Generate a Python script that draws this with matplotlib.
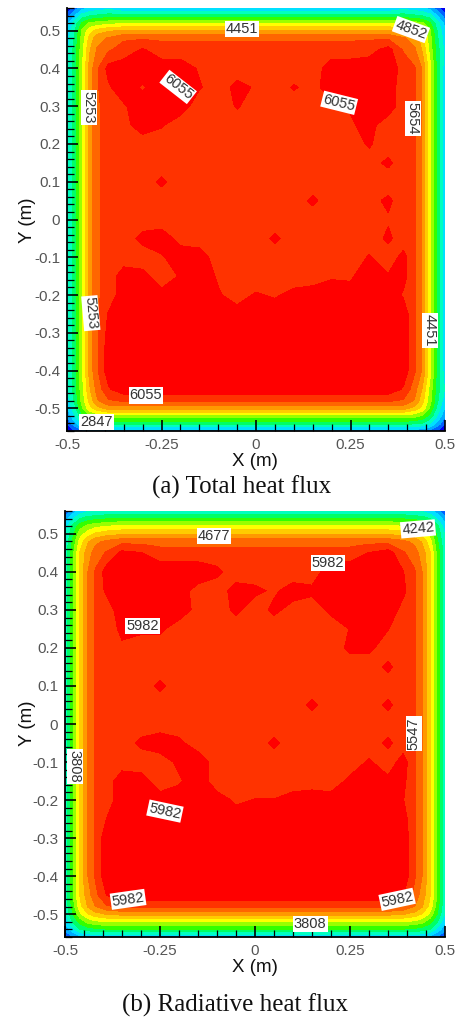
import numpy as np
import matplotlib
matplotlib.use("Agg")
import matplotlib.pyplot as plt
from matplotlib.colors import ListedColormap, BoundaryNorm
from matplotlib.ticker import FixedLocator

plt.rcParams['font.family'] = ['Liberation Sans', 'DejaVu Sans']

# grid lines of the hand-read fields (m)
x_left = [-0.5, -0.48, -0.46, -0.44, -0.42]
x_core = [-0.39, -0.35, -0.30, -0.25, -0.20, -0.15, -0.10, -0.05, 0, 0.05, 0.10, 0.15, 0.20, 0.25, 0.30, 0.35, 0.39]
x_right = [0.42, 0.44, 0.46, 0.48, 0.5]
y_top = [0.56, 0.54, 0.52, 0.50, 0.48]
y_core = [0.45, 0.40, 0.35, 0.30, 0.25, 0.20, 0.15, 0.10, 0.05, 0, -0.05, -0.10, -0.15, -0.20, -0.25, -0.30, -0.35, -0.40, -0.45]
y_bottom = [-0.48, -0.50, -0.52, -0.54, -0.56]

# heat flux, in hundreds of W/m2
core_a = [
 [56,58,61,58,58,58,58,58,58,58,58,58,58,58,59,62,56],
 [62,63,63,63,63,60,58,58,58,58,58,58,63,63,63,63,59],
 [60,63,60,63,63,61,58,62,60,58,61,59,63,63,63,63,58],
 [58,60,63,63,63,58,58,61,58,58,58,58,59,61,63,63,58],
 [58,59,63,61,58,58,58,58,58,58,58,58,58,60,62,58,58],
 [58,58,58,58,58,58,58,58,58,58,58,58,58,59,61,58,58],
 [58,58,58,58,58,58,58,58,58,58,58,58,58,58,59,61.5,58],
 [58,58,58,61.5,58,58,58,58,58,58,58,58,58,58,58,58,58],
 [58,58,58,58,58,58,58,58,58,58,58,61.5,58,58,59,61.5,58],
 [58,58,58,58,58,58,58,58,58,58,58,58,58,58,58,60,58],
 [58,58,62,63,59,58,58,58,58,61.5,58,58,58,58,58,61.5,58],
 [58,58,58,60,63,63,58,58,58,58,58,58,58,58,61,58,62],
 [58,63,62,58,61,63,60,58,58,58,58,58,60,60,63,61,62],
 [58,63,63,62,63,63,61,59,61,60,62,63,63,62,63,63,60],
 [61,63,63,63,63,63,63,62,63,63,63,63,63,63,63,63,63],
 [62,63,63,63,63,63,63,63,63,63,63,63,63,63,63,63,63],
 [63,63,63,63,63,63,63,63,63,63,63,63,63,63,63,63,63],
 [63,63,63,63,63,63,63,63,63,63,63,63,63,63,63,63,63],
 [62,63,63,63,63,63,63,63,63,63,63,63,63,63,63,63,62],
]
left_a = [24, 30, 40, 50, 56]
right_a = [57, 52, 42, 31, 22]
top_a = [20, 30, 40, 49, 56]
bottom_a = [57, 50, 39, 30, 18]
tl_a = [[8,14,19,21,22,23],[14,20,26,28,29,30],[19,26,33,37,38,39],[21,28,37,43,46,48],[22,29,38,46,51,53],[23,30,39,48,53,56]]
tr_a = [[23,22,21,19,14,8],[30,29,28,26,20,14],[39,38,37,33,26,19],[48,46,43,37,28,21],[53,51,46,38,29,22],[56,53,48,39,30,23]]
bl_a = [[24,30,39,48,54,60],[22,29,38,46,52,56],[20,27,36,43,47,50],[17,24,31,36,38,39],[13,19,25,28,29,30],[6,12,15,17,18,18]]
br_a = [[60,54,48,39,30,24],[56,52,46,38,29,22],[50,47,43,36,27,20],[39,38,36,31,24,17],[30,29,28,25,19,13],[18,18,17,15,12,6]]

core_b = [
 [55,61,60,57,57,57,57,57,57,57,57,57,57,57,60,62,55],
 [62,63,63,63,63,63,61,57,57,57,57,57,63,63,63,63,60],
 [61,63,63,63,62,58,57,62,61,59,62,61,63,63,63,63,61],
 [57,63,63,63,63,58,57,61,57,61,58,57,61,63,63,63,58],
 [57,61,61,61,57,57,57,57,57,57,57,57,57,60,62,60,57],
 [57,59,57,57,57,57,57,57,57,57,57,57,57,61,61,57,57],
 [57,57,57,57,57,57,57,57,57,57,57,57,57,57,57,61,57],
 [57,57,57,61,57,57,57,57,57,57,57,57,57,57,57,57,57],
 [57,57,57,57,57,57,57,57,57,57,57,61,57,57,57,61,57],
 [57,57,57,57,57,57,57,57,57,57,57,57,57,57,57,57,57],
 [57,57,61,63,61,57,57,57,57,61,57,57,57,57,57,61,57],
 [57,57,57,57,61,63,57,57,57,57,57,57,57,57,60.5,57,62],
 [57,63,62,57,59,63,57,57,57,57,57,57,57,61,63,61,61],
 [57,63,63,62,63,63,62,59,60,60,62,63,62,62,63,63,60],
 [60,63,63,63,63,63,63,62,63,63,63,63,63,63,63,63,62],
 [63,63,63,63,63,63,63,63,63,63,63,63,63,63,63,63,63],
 [63,63,63,63,63,63,63,63,63,63,63,63,63,63,63,63,63],
 [63,63,63,63,63,63,63,63,63,63,63,63,63,63,63,63,63],
 [62,63,63,63,63,63,63,63,63,63,63,63,63,63,63,63,62],
]
left_b = [22, 33, 44, 51, 56]
right_b = [56, 51, 44, 33, 22]
top_b = [20, 30, 39, 46, 54]
bottom_b = [56, 48, 38, 29, 17]
tl_b = [[8,14,18,20,20,21],[14,20,25,27,28,29],[18,26,32,35,37,38],[20,28,36,40,43,45],[21,30,40,46,50,52],[22,32,43,49,53,56]]
tr_b = [[21,20,20,18,14,8],[29,28,27,25,20,14],[38,37,35,32,26,18],[45,43,40,36,28,20],[52,50,46,40,30,21],[56,53,49,43,32,22]]
bl_b = [[22,33,43,49,54,60],[21,31,41,47,51,55],[20,29,37,42,45,47],[17,25,31,35,37,38],[13,19,25,27,28,29],[6,12,15,16,17,17]]
br_b = [[60,54,49,43,33,22],[55,51,47,41,31,21],[47,45,42,37,29,20],[38,37,35,31,25,17],[29,28,27,25,19,13],[17,17,16,15,12,6]]

# contour levels (hundreds of W/m2)
levels_a = [12.43, 16.44, 20.45, 24.46, 28.47, 32.48, 36.49, 40.50, 44.51, 48.52, 52.53, 56.54, 60.55]
levels_b = [11.98, 16.33, 20.68, 25.03, 29.38, 33.73, 38.08, 42.42, 46.77, 51.12, 55.47, 59.82]
band_colors = ['#0000f0', '#0060ff', '#00aaff', '#00e0ff', '#00ffc0', '#00ff66', '#33ff00',
               '#99ff00', '#ffff00', '#ffcc00', '#ff9900', '#ff6600', '#ff3300', '#ff0000']

# contour labels: text, x, y, rotation
labels_a_text = ['4451', '4852', '6055', '6055', '5253', '5654', '5253', '4451', '6055', '2847']
labels_a_x = [-0.037, 0.41, -0.206, 0.22, -0.442, 0.415, -0.437, 0.46, -0.291, -0.423]
labels_a_y = [0.505, 0.503, 0.351, 0.309, 0.296, 0.267, -0.248, -0.293, -0.466, -0.537]
labels_a_rot = [0, -20, -38, -14, -90, -90, -85, -90, 0, 0]
labels_b_text = ['4677', '4242', '5982', '5982', '5547', '3808', '5982', '5982', '5982', '3808']
labels_b_x = [-0.108, 0.429, 0.192, -0.295, 0.418, -0.474, -0.237, -0.334, 0.374, 0.145]
labels_b_y = [0.495, 0.513, 0.424, 0.258, -0.026, -0.111, -0.229, -0.461, -0.461, -0.526]
labels_b_rot = [0, 5, 0, 0, 90, -90, -12, 8, 12, 0]

y_major = [-0.5, -0.4, -0.3, -0.2, -0.1, 0, 0.1, 0.2, 0.3, 0.4, 0.5]
y_labels = ['-0.5', '-0.4', '-0.3', '-0.2', '-0.1', '0', '0.1', '0.2', '0.3', '0.4', '0.5']
x_major = [-0.5, -0.25, 0, 0.25, 0.5]
x_labels = ['-0.5', '-0.25', '0', '0.25', '0.5']
y_minor = [round(-0.56 + 0.02 * i, 2) for i in range(57)]
x_minor = [round(-0.5 + 0.05 * i, 2) for i in range(21)]

X = np.array(x_left + x_core + x_right)
Y = np.array(y_top + y_core + y_bottom)
W, H = 463, 1017


def build(core, left, right, top, bottom, tl, tr, bl, br):
    nrow, ncol = len(core), len(core[0])
    top_mid = np.repeat(np.array(top)[:, None], ncol, axis=1)
    bot_mid = np.repeat(np.array(bottom)[:, None], ncol, axis=1)
    left_mid = np.repeat(np.array(left)[None, :], nrow, axis=0)
    right_mid = np.repeat(np.array(right)[None, :], nrow, axis=0)
    blank = np.zeros((5, 5))
    Z = np.block([[blank, top_mid, blank],
                  [left_mid, np.array(core), right_mid],
                  [blank, bot_mid, blank]])
    Z[:6, :6] = tl
    Z[:6, -6:] = tr
    Z[-6:, :6] = bl
    Z[-6:, -6:] = br
    return Z


def panel(box, Z, levels, txt, xs, ys, rots, xlab_px, ylab_px, cap, cap_px):
    l, t, r, b = box
    ax = fig.add_axes([l / W, 1 - b / H, (r - l) / W, (b - t) / H])
    bounds = [0] + levels + [100]
    cmap = ListedColormap(band_colors[-(len(bounds) - 1):])
    ax.contourf(X, Y, Z, levels=bounds, cmap=cmap, norm=BoundaryNorm(bounds, cmap.N), antialiased=False)
    ax.set_xlim(-0.5, 0.5)
    ax.set_ylim(-0.56, 0.56)
    ax.spines['top'].set_visible(False)
    ax.spines['right'].set_visible(False)
    ax.spines['left'].set_linewidth(1.3)
    ax.spines['bottom'].set_linewidth(1.3)
    ax.set_xticks(x_major, x_labels)
    ax.set_yticks(y_major, y_labels)
    ax.xaxis.set_minor_locator(FixedLocator(x_minor))
    ax.yaxis.set_minor_locator(FixedLocator(y_minor))
    ax.tick_params(which='major', direction='in', length=8, width=1.2, labelsize=11,
                   labelcolor='#555555', pad=5)
    ax.tick_params(which='minor', direction='in', length=5, width=0.9)
    for s, x, y, rot in zip(txt, xs, ys, rots):
        ax.text(x, y, s, rotation=rot, ha='center', va='center', fontsize=10.5, color='#333333',
                clip_on=True, bbox=dict(facecolor='white', edgecolor='none', pad=0.8))
    fig.text(xlab_px[0] / W, 1 - xlab_px[1] / H, 'X (m)', ha='center', va='center', fontsize=13.5, color='#111111')
    fig.text(ylab_px[0] / W, 1 - ylab_px[1] / H, 'Y (m)', ha='center', va='center', rotation=90, fontsize=13.5, color='#111111')
    fig.text(cap_px[0] / W, 1 - cap_px[1] / H, cap, ha='center', va='center', fontsize=18,
             family=['Liberation Serif', 'DejaVu Serif'], color='#111111')


fig = plt.figure(figsize=(W / 100, H / 100), dpi=100, facecolor='white')
panel((67, 8, 445, 431), build(core_a, left_a, right_a, top_a, bottom_a, tl_a, tr_a, bl_a, br_a), levels_a,
      labels_a_text, labels_a_x, labels_a_y, labels_a_rot, (255, 461), (27, 220), '(a) Total heat flux', (242, 487))
panel((65, 511, 445, 937), build(core_b, left_b, right_b, top_b, bottom_b, tl_b, tr_b, bl_b, br_b), levels_b,
      labels_b_text, labels_b_x, labels_b_y, labels_b_rot, (255, 967), (27, 723), '(b) Radiative heat flux', (235, 1005))
fig.savefig('out.png', dpi=100, facecolor='white')
